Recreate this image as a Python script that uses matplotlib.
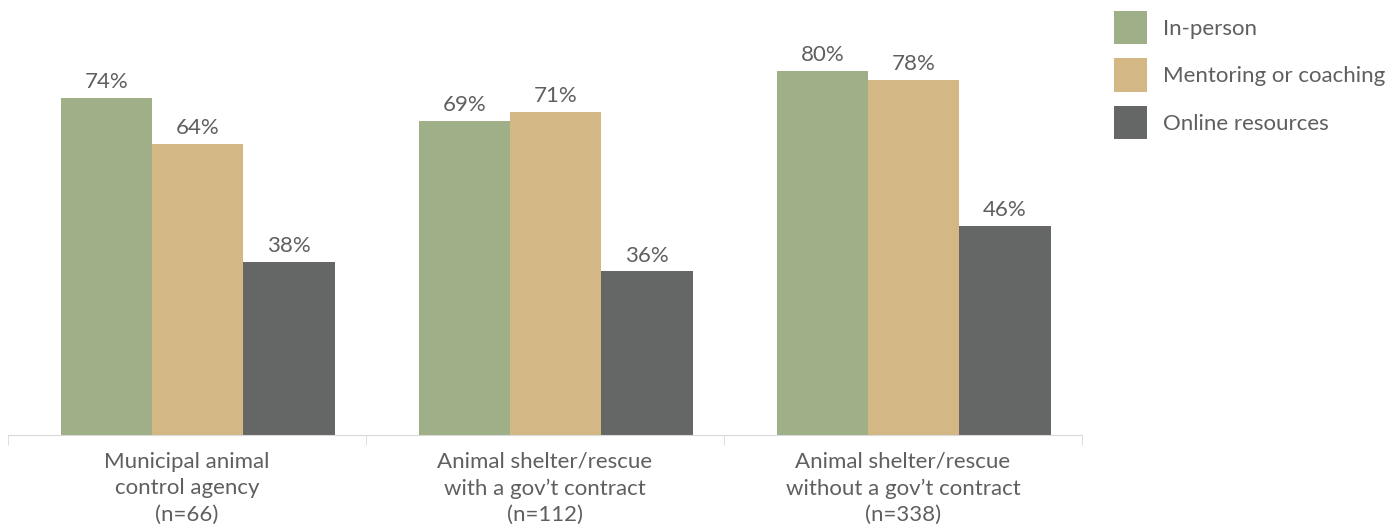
import matplotlib.pyplot as plt
import numpy as np

# categories and series
categories = ["Municipal animal\ncontrol agency\n(n=66)",
              "Animal shelter/rescue\nwith a gov\u2019t contract\n(n=112)",
              "Animal shelter/rescue\nwithout a gov\u2019t contract\n(n=338)"]
series_names = ["In-person", "Mentoring or coaching", "Online resources"]
in_person = [74, 69, 80]
mentoring = [64, 71, 78]
online = [38, 36, 46]

colors = ["#9faf88", "#d3b885", "#646766"]
text_color = "#5f5f5f"

plt.rcParams['font.family'] = ['Lato', 'DejaVu Sans']

fig = plt.figure(figsize=(13.98, 5.25), dpi=100)
ax = fig.add_axes([8 / 1398, 90 / 525, (1082 - 8) / 1398, 408 / 525])

x = np.arange(len(categories))
w = 0.255
shift = 0.03
for i, (vals, name) in enumerate(zip([in_person, mentoring, online], series_names)):
    pos = x + shift + (i - 1) * w
    bars = ax.bar(pos, vals, width=w, color=colors[i], label=name)
    for b, v in zip(bars, vals):
        ax.annotate(f"{v}%", (b.get_x() + b.get_width() / 2, v),
                    xytext=(0, 4), textcoords="offset points",
                    ha="center", va="bottom", fontsize=16, color=text_color)

ax.set_xlim(-0.5, 2.5)
ax.set_ylim(0, 89.6)
ax.set_yticks([])
for s in ["top", "right", "left"]:
    ax.spines[s].set_visible(False)
ax.spines["bottom"].set_color("#d9d9d9")

ax.set_xticks(x)
ax.set_xticklabels(categories, fontsize=16, color=text_color, linespacing=1.4)
ax.tick_params(axis="x", which="major", length=0, pad=12)
ax.set_xticks([-0.5, 0.5, 1.5, 2.5], minor=True)
ax.tick_params(axis="x", which="minor", length=7, color="#d9d9d9")

leg = ax.legend(loc="upper left", bbox_to_anchor=(1114 / 1398, 1 - 11 / 525),
                bbox_transform=fig.transFigure, frameon=False, fontsize=16,
                handlelength=1.49, handleheight=1.91, labelspacing=0.65,
                handletextpad=0.72, borderpad=0, borderaxespad=0)
for t in leg.get_texts():
    t.set_color(text_color)

fig.savefig("out.png", dpi=100)
